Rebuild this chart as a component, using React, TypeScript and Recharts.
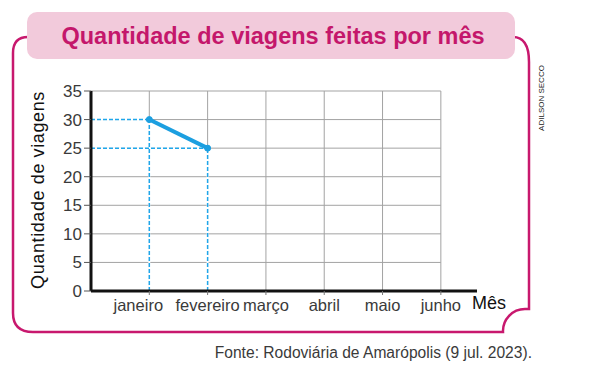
import React from "react";
import { LineChart, Line, XAxis, YAxis, ReferenceLine } from "recharts";

const months = ["janeiro", "fevereiro", "março", "abril", "maio", "junho"];
const trips = [30, 25];
const yTicks = [0, 5, 10, 15, 20, 25, 30, 35];

const title = "Quantidade de viagens feitas por mês";
const yTitle = "Quantidade de viagens";
const xTitle = "Mês";
const source = "Fonte: Rodoviária de Amarópolis (9 jul. 2023).";
const credit = "ADILSON SECCO";

const data = trips.map((v, i) => ({ x: i + 1, y: v }));

const FONT = "'Liberation Sans', Arial, sans-serif";
const PINK = "#c8186e";
const BLUE = "#1c9fe0";
const DASH = "#1fa6ea";
const GRID = "#a3a3a3";

// janeiro is pushed a little left in the original so it does not crowd fevereiro
const labelNudge: Record<string, number> = { janeiro: -11 };

function MonthTick(props: any) {
  const { x, y, payload } = props;
  const label = months[payload.value - 1] ?? "";
  return (
    <text
      x={x + (labelNudge[label] ?? 0)}
      y={y}
      dy="0.71em"
      textAnchor="middle"
      fontFamily={FONT}
      fontSize={16.5}
      fill="#3a3a3a"
    >
      {label}
    </text>
  );
}

export default function App() {
  const lastMonth = months.length;
  return (
    <div style={{ position: "absolute", left: 0, top: 0, width: 595, height: 370, background: "#fff" }}>
      {/* frame + title box */}
      <svg width={595} height={370} style={{ position: "absolute", left: 0, top: 0 }}>
        <path
          d="M 28 37 Q 13 37 13 53 L 13 313 Q 13 332 33 332 L 503 332 A 22 22 0 0 1 525 309 L 529 309 L 529 62 Q 529 37 513 37"
          fill="none"
          stroke={PINK}
          strokeWidth={2.5}
        />
        <rect x={27} y={12} width={488} height={47} rx={10} fill="#f2cadb" />
        <text x={273} y={44} textAnchor="middle" fontFamily={FONT} fontWeight="bold" fontSize={23.5} fill="#c4176b">
          {title}
        </text>
        <text
          transform="translate(544 98) rotate(-90)"
          textAnchor="middle"
          fontFamily={FONT}
          fontSize={8}
          fill="#222"
        >
          {credit}
        </text>
        <text
          transform="translate(44 190) rotate(-90)"
          textAnchor="middle"
          fontFamily={FONT}
          fontSize={18}
          letterSpacing={0.6}
          fill="#111"
        >
          {yTitle}
        </text>
        <text x={472} y={309} fontFamily={FONT} fontSize={18} fill="#111">
          {xTitle}
        </text>
        <text x={532} y={358} textAnchor="end" fontFamily={FONT} fontSize={15.6} fill="#3a3a3a">
          {source}
        </text>
      </svg>

      <div style={{ position: "absolute", left: 0, top: 0 }}>
        <LineChart width={595} height={370} data={data} margin={{ top: 91, right: 118, bottom: 49, left: 51 }}>
          <XAxis
            type="number"
            dataKey="x"
            domain={[0, 6.62]}
            ticks={months.map((_, i) => i + 1)}
            allowDataOverflow
            height={30}
            axisLine={false}
            tickLine={{ stroke: "#777" }}
            tickSize={4}
            tickMargin={4}
            tick={<MonthTick />}
          />
          <YAxis
            type="number"
            domain={[0, 35]}
            ticks={yTicks}
            width={40}
            axisLine={false}
            tickLine={{ stroke: "#555" }}
            tickSize={7}
            tickMargin={2}
            tick={{ fontFamily: FONT, fontSize: 17, fill: "#3a3a3a" }}
          />

          {/* grid, only up to junho */}
          {yTicks.slice(1).map((t) => (
            <ReferenceLine
              key={`h${t}`}
              segment={[{ x: 0, y: t }, { x: lastMonth, y: t }]}
              stroke={GRID}
              strokeWidth={1}
            />
          ))}
          {months.map((m, i) => (
            <ReferenceLine key={`v${m}`} x={i + 1} stroke={GRID} strokeWidth={1} />
          ))}

          {/* dashed guides to each value */}
          {data.map((d) => (
            <ReferenceLine
              key={`wh${d.x}`}
              segment={[{ x: 0, y: d.y }, { x: d.x, y: d.y }]}
              stroke="#fff"
              strokeWidth={2}
            />
          ))}
          {data.map((d) => (
            <ReferenceLine
              key={`wv${d.x}`}
              segment={[{ x: d.x, y: 0 }, { x: d.x, y: d.y }]}
              stroke="#fff"
              strokeWidth={2}
            />
          ))}
          {data.map((d) => (
            <ReferenceLine
              key={`dh${d.x}`}
              segment={[{ x: 0, y: d.y }, { x: d.x, y: d.y }]}
              stroke={DASH}
              strokeWidth={1.5}
              strokeDasharray="4 2"
            />
          ))}
          {data.map((d) => (
            <ReferenceLine
              key={`dv${d.x}`}
              segment={[{ x: d.x, y: 0 }, { x: d.x, y: d.y }]}
              stroke={DASH}
              strokeWidth={1.5}
              strokeDasharray="4 2"
            />
          ))}

          {/* heavy axes */}
          <ReferenceLine segment={[{ x: 0, y: 0 }, { x: 6.62, y: 0 }]} stroke="#111" strokeWidth={3} />
          <ReferenceLine segment={[{ x: 0, y: 0 }, { x: 0, y: 35 }]} stroke="#111" strokeWidth={3} />

          <Line
            type="linear"
            dataKey="y"
            stroke={BLUE}
            strokeWidth={4}
            dot={{ r: 3, fill: BLUE, stroke: BLUE, strokeWidth: 1 }}
            activeDot={false}
            isAnimationActive={false}
          />
        </LineChart>
      </div>
    </div>
  );
}
